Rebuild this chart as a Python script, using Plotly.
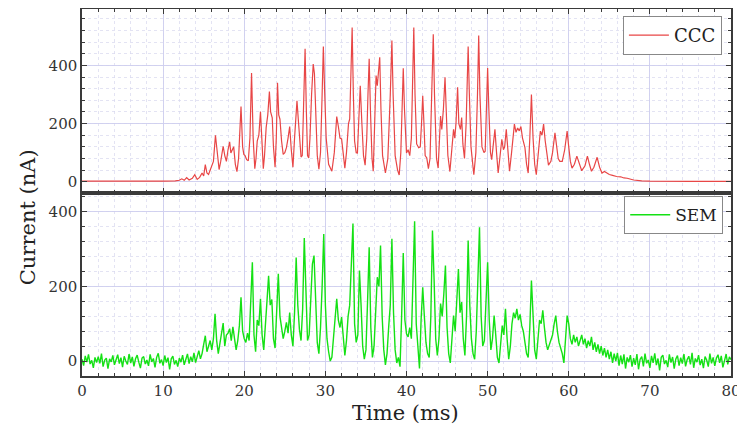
import numpy as np
import plotly.graph_objects as go
from plotly.subplots import make_subplots

# ---------------- data ----------------
ccc_t = [0, 5, 10, 11.5, 12, 12.3, 12.6, 12.9, 13.2, 13.6, 13.9, 14.2, 14.5, 14.8, 15.0, 15.2, 15.4, 15.6,
         15.9, 16.2, 16.45, 16.7, 16.9, 17.1, 17.4, 17.6, 17.8, 18.0, 18.2, 18.35, 18.5, 18.7, 18.9, 19.1,
         19.3, 19.6, 19.8, 19.95, 20.1, 20.3, 20.5, 20.7, 20.9, 21.1, 21.3, 21.45, 21.6, 21.8, 22.0, 22.2,
         22.35, 22.5, 22.7, 22.9, 23.1, 23.25, 23.45, 23.6, 23.8, 23.95, 24.1, 24.25, 24.4, 24.6, 24.8, 25.0,
         25.2, 25.4, 25.6, 25.8, 26.0, 26.2, 26.35, 26.5, 26.7, 26.85, 27.0, 27.15, 27.3, 27.5, 27.65, 27.8,
         27.95, 28.1, 28.3, 28.5, 28.65, 28.8, 29.0, 29.2, 29.4, 29.6, 29.75, 29.9, 30.1, 30.4, 30.8, 31.1,
         31.4, 31.6, 31.8, 32.0, 32.2, 32.4, 32.6, 32.85, 33.0, 33.15, 33.3, 33.45, 33.6, 33.8, 33.95, 34.1,
         34.3, 34.5, 34.7, 34.9, 35.1, 35.25, 35.4, 35.55, 35.75, 35.9, 36.05, 36.25, 36.4, 36.55, 36.7,
         36.85, 37.05, 37.4, 37.7, 38.0, 38.2, 38.35, 38.6, 38.9, 39.1, 39.3, 39.45, 39.6, 39.75, 39.9, 40.0,
         40.2, 40.4, 40.6, 40.75, 40.9, 41.05, 41.25, 41.5, 41.7, 41.85, 42.0, 42.15, 42.3, 42.5, 42.7, 42.9,
         43.1, 43.3, 43.45, 43.7, 43.9, 44.05, 44.2, 44.35, 44.55, 44.75, 44.9, 45.1, 45.35, 45.55, 45.8,
         45.95, 46.1, 46.3, 46.45, 46.65, 46.8, 46.95, 47.15, 47.35, 47.6, 47.75, 47.95, 48.3, 48.55, 48.75,
         48.9, 49.05, 49.3, 49.55, 49.7, 49.85, 50.0, 50.15, 50.35, 50.5, 50.7, 50.9, 51.1, 51.3, 51.5, 51.75,
         51.95, 52.1, 52.3, 52.5, 52.7, 52.95, 53.15, 53.3, 53.5, 53.7, 53.9, 54.1, 54.3, 54.6, 54.8, 55.0,
         55.2, 55.4, 55.6, 55.8, 56.0, 56.2, 56.5, 56.7, 56.9, 57.1, 57.3, 57.5, 57.8, 58.0, 58.3, 58.5, 58.7,
         58.9, 59.2, 59.5, 59.8, 60.0, 60.2, 60.4, 60.7, 61.0, 61.3, 61.6, 62.0, 62.3, 62.55, 62.8, 63.1, 63.5,
         63.8, 64.1, 64.4, 64.7, 65.0, 65.4, 65.9, 66.4, 66.8, 67.2, 68, 69, 70, 75, 80]
ccc_v = [2, 1, 2, 3, 5, 10, 5, 14, 6, 12, 24, 8, 15, 30, 20, 59, 30, 25,
         50, 70, 160, 80, 42, 70, 122, 90, 70, 110, 137, 99, 110, 120, 60, 35,
         80, 259, 120, 94, 90, 76, 72, 150, 374, 150, 45, 80, 140, 160, 241, 100,
         45, 90, 186, 230, 310, 240, 220, 120, 50, 150, 340, 230, 215, 140, 94, 100,
         117, 150, 190, 110, 50, 150, 230, 278, 200, 120, 85, 90, 250, 457, 250, 90,
         82, 150, 300, 405, 372, 250, 90, 43, 100, 300, 465, 320, 150, 60, 36, 100,
         224, 190, 150, 147, 90, 47, 100, 200, 216, 350, 530, 300, 140, 100, 99, 200,
         330, 200, 90, 57, 150, 300, 423, 250, 80, 36, 150, 365, 330, 400, 428,
         250, 90, 30, 80, 300, 486, 300, 90, 40, 23, 100, 250, 390, 250, 120, 99,
         110, 90, 150, 350, 530, 300, 130, 117, 120, 200, 296, 200, 90, 82, 45, 80,
         300, 507, 300, 80, 47, 130, 226, 180, 250, 359, 220, 90, 35, 100, 180,
         150, 200, 325, 200, 180, 221, 130, 80, 200, 465, 300, 120, 24, 100, 300,
         503, 300, 120, 100, 105, 250, 391, 250, 100, 76, 120, 180, 100, 30, 80, 146,
         110, 120, 180, 100, 36, 100, 170, 198, 170, 185, 175, 190, 150, 117, 60, 30,
         150, 300, 150, 60, 24, 90, 174, 160, 198, 140, 90, 57, 70, 100, 168, 120, 80,
         70, 70, 110, 174, 120, 70, 47, 60, 88, 60, 38, 55, 88, 60, 36, 50, 84,
         50, 30, 35, 30, 25, 22, 18, 17, 13, 12, 6, 3, 2, 1, 1]

# SEM sampled every 0.2 ms from 0 to 80 ms
sem_t = np.round(np.arange(0, 80.0001, 0.2), 1)
sem_v = [
    5, -12, 14, -3, 18, -8, 2, -18, 10, -4,
    12, -6, 20, -15, 3, 8, -20, 6, -2, 15,
    -10, 4, 17, -7, 9, -16, 13, 0, -9, 19,
    -5, 11, -14, 6, 16, -3, -19, 8, 12, -8,
    3, -13, 18, -2, 7, -17, 10, 21, -6, 4,
    -12, 15, -4, 9, -22, 6, 13, -9, 2, -15,
    8, -3, 16, -10, 5, 19, -7, 12, -2, 22,
    -4, 15, 28, 6, 20, 45, 68, 25, 40, 55,
    30, 60, 127, 55, 20, 45, 70, 102, 40, 70,
    75, 87, 55, 92, 60, 30, 55, 95, 171, 80,
    60, 50, 75, 55, 160, 265, 70, 25, 110, 95,
    167, 70, 30, 110, 160, 229, 150, 165, 60, 35,
    150, 234, 120, 90, 60, 80, 104, 75, 130, 70,
    40, 130, 278, 150, 85, 55, 140, 330, 160, 55,
    70, 170, 260, 283, 150, 50, 20, 90, 200, 341,
    150, 60, 25, 0, 10, 60, 120, 167, 110, 90,
    118, 60, 15, 55, 120, 150, 250, 369, 100, 50,
    70, 243, 150, 40, 5, 30, 160, 305, 90, 10,
    40, 150, 225, 200, 310, 120, 30, -10, 20, 90,
    150, 328, 130, 30, -5, 10, -15, 120, 290, 110,
    73, 65, 90, 60, 200, 375, 100, 50, -20, 110,
    198, 120, 50, 20, 10, 120, 350, 220, 60, 15,
    60, 154, 120, 180, 256, 90, 20, -5, 60, 122,
    80, 180, 247, 130, 158, 60, 15, 120, 323, 150,
    60, 20, 5, 80, 250, 359, 120, 40, 55, 150,
    265, 110, 30, 60, 122, 70, 10, -5, 60, 95,
    70, 140, 60, 5, 40, 100, 130, 115, 140, 110,
    125, 95, 80, 50, 20, 10, 90, 216, 100, 30,
    5, 50, 110, 100, 136, 90, 50, 30, 45, 55,
    70, 100, 122, 80, 50, 35, 20, -5, 60, 122,
    100, 60, 45, 70, 50, 65, 40, 55, 70, 45,
    60, 35, 55, 40, 65, 30, 50, 25, 45, 20,
    40, 15, 35, 10, 30, 5, 25, -5, 20, 0,
    22, -12, 15, -8, 18, -20, 10, -3, 16, -15,
    8, -10, 19, -22, 5, 12, -14, 20, -6, 3,
    -18, 14, -5, 21, -11, 7, -25, 10, 16, -8,
    2, -16, 18, -4, 11, -20, 6, 15, -12, 9,
    -7, 19, -14, 4, 13, -9, 22, -18, 7, -3,
    16, -11, 5, -19, 12, 3, -15, 20, -6, 10,
    -13, 8, 17, -5, 14, -17, 6, 19, -9, 11,
    4,
]

x_ticks = [0, 10, 20, 30, 40, 50, 60, 70, 80]
y_ticks = [0, 200, 400]

# ---------------- figure ----------------
FONT = "DejaVu Serif"
fig = make_subplots(rows=2, cols=1, shared_xaxes=True, vertical_spacing=0)

fig.add_trace(go.Scatter(x=ccc_t, y=ccc_v, mode="lines", name="CCC",
                         line=dict(color="rgb(232,70,70)", width=1.2), legend="legend"),
              row=1, col=1)
fig.add_trace(go.Scatter(x=sem_t, y=sem_v, mode="lines", name="SEM",
                         line=dict(color="rgb(20,225,20)", width=1.4), legend="legend2"),
              row=2, col=1)

grid_col = "rgba(205,205,238,0.9)"
minor_grid = "rgba(215,215,238,0.7)"
axis_common = dict(
    showline=True, linecolor="#3a3a3a", linewidth=1.5, mirror="allticks",
    ticks="inside", ticklen=5, tickcolor="#3a3a3a", tickwidth=1,
    showgrid=True, gridcolor=grid_col, gridwidth=1, zeroline=False,
    tickfont=dict(family=FONT, size=15, color="#333"),
)

for r in (1, 2):
    fig.update_xaxes(range=[0, 80], tickvals=x_ticks,
                     minor=dict(dtick=2, ticks="inside", ticklen=3, tickcolor="#3a3a3a",
                                showgrid=True, gridcolor=minor_grid, griddash="dot"),
                     **axis_common, row=r, col=1)
fig.update_xaxes(showticklabels=False, row=1, col=1)
fig.update_xaxes(showticklabels=True, row=2, col=1)

fig.update_yaxes(range=[-37, 594], tickvals=y_ticks,
                 minor=dict(dtick=40, ticks="inside", ticklen=3, tickcolor="#3a3a3a",
                            showgrid=True, gridcolor=minor_grid, griddash="dot"),
                 **axis_common, row=1, col=1)
fig.update_yaxes(range=[-40, 452], tickvals=y_ticks,
                 minor=dict(dtick=40, ticks="inside", ticklen=3, tickcolor="#3a3a3a",
                            showgrid=True, gridcolor=minor_grid, griddash="dot"),
                 **axis_common, row=2, col=1)

# the page places the figure 8 px from the window's top-left corner
fig.update_layout(
    width=737, height=417,
    margin=dict(l=74, r=14, t=1, b=49, autoexpand=False),
    paper_bgcolor="white", plot_bgcolor="white",
    yaxis=dict(domain=[0.5, 1.0]),
    yaxis2=dict(domain=[0.0, 0.5]),
    legend=dict(x=0.986, y=0.981, xanchor="right", yanchor="top",
                bgcolor="white", bordercolor="#888", borderwidth=1,
                font=dict(family=FONT, size=18, color="#222"),
                itemwidth=40, tracegroupgap=0),
    legend2=dict(x=0.988, y=0.49, xanchor="right", yanchor="top",
                 bgcolor="white", bordercolor="#888", borderwidth=1,
                 font=dict(family=FONT, size=17, color="#222"),
                 itemwidth=40, tracegroupgap=0),
    showlegend=True,
    annotations=[
        dict(text="Current (nA)", xref="paper", yref="paper", x=-0.083, y=0.433,
             textangle=-90, showarrow=False, xanchor="center", yanchor="middle",
             font=dict(family=FONT, size=21, color="#222")),
        dict(text="Time (ms)", xref="paper", yref="paper", x=0.499, y=-0.1,
             showarrow=False, xanchor="center", yanchor="middle",
             font=dict(family=FONT, size=21, color="#222")),
    ],
)

fig.write_html("out.html")
